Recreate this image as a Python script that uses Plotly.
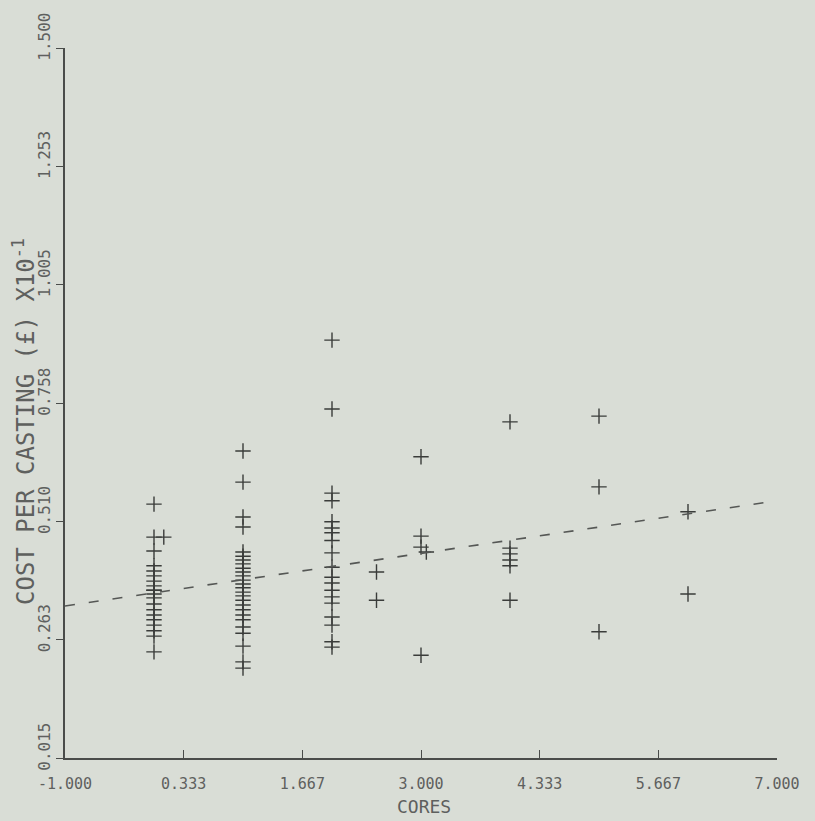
import plotly.graph_objects as go

# Cost per casting (x10^-1 pounds) against number of cores
cores_0 = [0] * 20
cost_0 = [0.546, 0.477, 0.448, 0.417, 0.406, 0.396, 0.385, 0.375, 0.366, 0.366,
          0.358, 0.350, 0.337, 0.325, 0.314, 0.304, 0.293, 0.281, 0.270, 0.237]

cores_1 = [1] * 26
cost_1 = [0.657, 0.592, 0.519, 0.498, 0.446, 0.437, 0.429, 0.421, 0.412, 0.404,
          0.396, 0.387, 0.379, 0.371, 0.362, 0.354, 0.345, 0.335, 0.325, 0.314,
          0.304, 0.289, 0.276, 0.249, 0.216, 0.203]

cores_2 = [2] * 19
cost_2 = [0.889, 0.745, 0.569, 0.553, 0.509, 0.496, 0.486, 0.470, 0.444, 0.414,
          0.393, 0.381, 0.366, 0.352, 0.339, 0.310, 0.293, 0.258, 0.247]

cores_rest = [0.11, 2.5, 2.5, 3, 3, 3, 3.06, 3, 4, 4, 4, 4, 4, 4, 5, 5, 5, 6, 6]
cost_rest = [0.477, 0.404, 0.345, 0.645, 0.479, 0.456, 0.446, 0.230, 0.718, 0.454,
             0.442, 0.429, 0.417, 0.345, 0.730, 0.582, 0.279, 0.530, 0.358]

# Fitted regression line
trend_intercept = 0.3605
trend_slope = 0.0275
trend_x = [-1.0, 6.9]

x_ticks = [-1.0, 0.333, 1.667, 3.0, 4.333, 5.667, 7.0]
x_tick_labels = ["-1.000", "0.333", "1.667", "3.000", "4.333", "5.667", "7.000"]
y_ticks = [0.015, 0.2625, 0.510, 0.7575, 1.005, 1.2525, 1.500]
y_tick_labels = ["0.015", "0.263", "0.510", "0.758", "1.005", "1.253", "1.500"]

x_title = "CORES"
y_title = "COST PER CASTING (£) X10<sup>-1</sup>"

paper = "#d9ddd6"
ink = "#4a4c4a"
text_col = "#5e605e"
mono = "DejaVu Sans Mono, Liberation Mono, monospace"

xs = cores_0 + cores_1 + cores_2 + cores_rest
ys = cost_0 + cost_1 + cost_2 + cost_rest

fig = go.Figure()
fig.add_trace(go.Scatter(
    x=xs, y=ys, mode="markers",
    marker=dict(symbol="cross-thin", size=11,
                line=dict(width=1.4, color="#3a3c3a")),
    hoverinfo="x+y",
))
fig.add_trace(go.Scatter(
    x=trend_x, y=[trend_intercept + trend_slope * v for v in trend_x],
    mode="lines", line=dict(color="#555755", width=1.6, dash="10px,14px"),
    hoverinfo="skip",
))

fig.update_layout(
    width=815, height=821,
    margin=dict(l=65, r=38, t=48, b=63),
    paper_bgcolor=paper, plot_bgcolor=paper,
    showlegend=False,
    font=dict(family=mono, color=text_col),
)
fig.update_xaxes(
    range=[-1, 7], autorange=False,
    tickvals=x_ticks, ticktext=x_tick_labels,
    ticks="inside", ticklen=8, tickwidth=1.3, tickcolor=ink,
    showline=True, linecolor=ink, linewidth=1.5,
    showgrid=False, zeroline=False,
    tickfont=dict(size=15, family=mono, color=text_col),
    ticklabelstandoff=11,
)
fig.update_yaxes(
    range=[0.015, 1.5], autorange=False,
    tickvals=y_ticks, ticktext=y_tick_labels,
    ticks="outside", ticklen=7, tickwidth=1.3, tickcolor=ink,
    showline=True, linecolor=ink, linewidth=1.5,
    showgrid=False, zeroline=False,
    tickangle=-90, ticklabelshift=-9,
    tickfont=dict(size=16, family=mono, color=text_col),
)

# Axis titles placed as annotations
fig.add_annotation(
    text=x_title, xref="paper", yref="paper", x=0.504, y=-0.068,
    xanchor="center", yanchor="middle", showarrow=False,
    font=dict(size=18, family=mono, color=text_col),
)
fig.add_annotation(
    text=y_title, xref="paper", yref="paper", x=-0.0576, y=0.4746,
    xanchor="center", yanchor="middle", textangle=-90, showarrow=False,
    font=dict(size=24, family=mono, color=text_col),
)

fig.write_html("out.html")
